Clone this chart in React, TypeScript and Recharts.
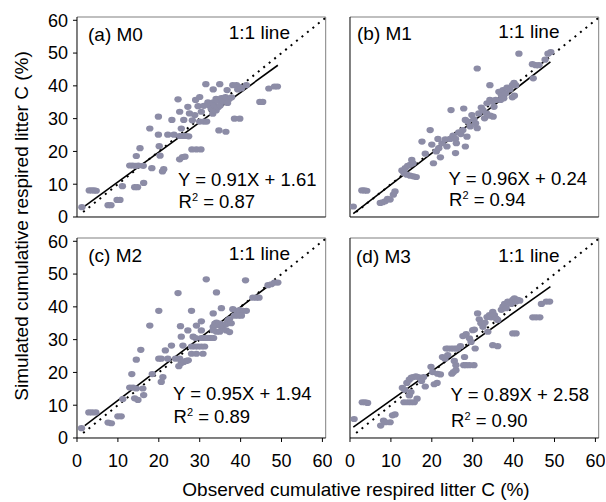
import React from 'react';
import { ScatterChart, Scatter, XAxis, YAxis, ReferenceLine } from 'recharts';

const axisTicks = [0, 10, 20, 30, 40, 50, 60];
const panelLabels = ['(a) M0', '(b) M1', '(c) M2', '(d) M3'];
const slopes = [0.91, 0.96, 0.95, 0.89];
const intercepts = [1.61, 0.24, 1.94, 2.58];
const equationTexts = ['Y = 0.91X + 1.61', 'Y = 0.96X + 0.24', 'Y = 0.95X + 1.94', 'Y = 0.89X + 2.58'];
const r2Texts = ['0.87', '0.94', '0.89', '0.90'];
const fitStart = [1.9, 0.8, 1.9, 0.8];
const fitEnd = [49.1, 49.0, 47.0, 49.0];
const oneToOne = [1.5, 60.8];
const xTitle = 'Observed cumulative respired litter C (%)';
const yTitle = 'Simulated cumulative respired litter C (%)';

// [observed, simulated]
const m0Points = [
  [1.2, 3.0], [3.0, 8.1], [3.6, 8.1], [4.2, 8.1], [4.7, 8.0],
  [7.6, 3.6], [8.3, 3.6], [9.8, 5.2], [10.5, 5.2], [11.1, 9.4],
  [12.9, 15.7], [13.6, 15.7], [14.3, 15.6], [15.0, 15.7], [16.2, 15.6],
  [14.1, 9.1], [14.8, 9.1], [16.3, 10.4], [14.5, 18.6], [15.4, 21.0],
  [18.3, 14.9], [17.8, 27.0], [19.9, 30.6], [19.9, 25.1], [20.1, 21.6], [20.3, 18.7], [20.9, 13.9], [21.2, 14.6],
  [22.2, 25.1], [23.2, 29.6], [23.7, 25.1], [24.7, 35.9], [25.1, 32.1], [25.5, 27.0],
  [25.1, 24.7], [25.9, 24.7], [26.6, 24.7], [27.3, 24.6],
  [25.1, 17.6], [25.8, 18.3], [26.4, 18.4],
  [26.1, 29.6], [27.1, 33.6], [27.5, 31.6], [28.2, 29.5], [28.8, 31.1],
  [28.1, 20.6], [29.2, 20.6], [30.3, 20.6],
  [29.0, 35.7], [30.0, 36.6], [29.6, 33.8], [30.4, 32.1], [31.0, 33.9],
  [30.0, 29.1], [31.0, 29.1], [31.7, 29.1],
  [31.5, 40.5], [32.0, 35.0], [32.4, 34.0], [32.8, 33.0], [33.3, 35.0], [33.6, 34.0], [34.0, 36.0], [34.3, 35.5], [33.3, 38.9],
  [33.2, 31.5], [34.0, 32.5], [34.5, 33.5], [35.0, 34.0],
  [34.9, 40.5], [34.7, 26.4], [36.4, 26.0],
  [35.3, 36.3], [35.8, 35.2], [36.3, 36.6], [36.8, 34.8], [37.2, 36.0], [37.8, 36.5], [36.7, 38.7],
  [38.1, 40.2], [39.0, 40.2], [39.8, 39.6], [38.5, 30.0], [39.8, 30.0], [39.3, 38.9], [40.2, 39.2], [41.4, 40.2],
  [44.7, 35.1], [45.4, 35.1], [46.9, 39.2], [48.3, 39.8], [49.0, 39.8],
];

const m1Points = [
  [0.8, 3.2], [2.9, 8.1], [3.5, 8.1], [4.1, 8.0],
  [7.4, 4.3], [8.0, 4.5], [8.6, 4.8], [9.2, 5.5], [9.8, 5.3], [10.6, 6.8], [11.0, 7.8],
  [12.7, 14.2], [13.5, 14.9], [14.1, 15.6], [14.7, 15.9], [15.4, 16.4],
  [13.2, 13.4], [13.9, 12.9], [14.7, 12.6], [15.5, 12.4], [16.2, 12.2], [15.1, 17.4],
  [17.6, 23.0], [18.4, 19.3], [19.6, 26.5], [20.0, 22.1], [20.4, 16.4], [21.1, 20.0], [21.7, 21.0], [22.1, 18.2], [21.5, 23.8],
  [22.5, 22.5], [23.3, 23.7], [23.7, 21.5], [24.7, 32.6], [24.5, 23.8], [25.2, 24.8], [25.8, 23.8], [26.0, 22.5], [25.8, 19.5],
  [26.6, 25.8], [27.1, 25.3], [27.6, 26.5], [27.8, 33.1], [28.2, 29.6], [28.8, 29.1], [29.4, 27.6], [28.6, 24.5], [28.2, 21.5],
  [29.8, 31.1], [30.3, 29.8], [30.7, 28.6], [31.1, 27.1], [31.1, 45.3],
  [31.5, 31.6], [32.1, 33.4], [32.5, 32.6], [32.9, 30.1], [33.4, 31.6],
  [33.5, 34.7], [34.2, 35.7], [34.8, 35.2], [35.2, 33.6], [35.6, 35.7], [34.2, 40.2], [34.3, 30.9], [35.0, 30.6],
  [36.4, 38.2], [37.0, 37.2], [37.4, 38.7], [38.0, 37.7], [36.8, 35.7], [37.6, 36.2],
  [38.4, 39.5], [39.1, 38.9], [39.7, 40.2], [40.1, 40.9], [40.5, 40.2], [39.7, 36.5], [40.2, 37.0], [41.3, 49.8],
  [44.6, 46.6], [45.4, 46.3], [46.2, 46.3], [44.8, 42.3], [47.7, 48.0], [48.4, 49.8], [49.1, 50.3],
];

const m2Points = [
  [1.1, 3.0], [2.9, 7.8], [3.7, 7.8], [4.6, 7.8],
  [7.6, 4.7], [8.4, 4.5], [10.0, 6.6], [10.8, 6.6], [11.2, 11.9],
  [12.9, 15.4], [13.7, 15.4], [14.5, 15.1], [13.4, 19.5], [14.1, 12.1], [14.9, 11.6],
  [14.5, 23.9], [15.6, 26.9], [16.1, 15.1], [16.3, 13.1], [17.8, 34.3], [18.4, 19.5],
  [20.0, 38.8], [20.0, 24.2], [20.6, 24.2], [20.6, 17.1], [21.0, 18.6], [21.6, 26.7], [22.2, 24.2], [23.1, 28.2],
  [24.7, 44.2], [24.1, 24.2], [25.1, 24.2], [24.9, 21.9], [25.5, 22.9], [25.3, 34.1], [25.5, 30.9], [25.9, 28.2],
  [26.1, 23.2], [26.7, 23.5], [27.2, 23.7], [27.1, 32.8], [28.0, 38.8], [28.4, 30.9], [29.0, 30.5],
  [28.0, 27.9], [28.8, 27.9], [29.6, 27.9], [30.4, 27.9], [31.2, 27.9], [28.0, 25.7], [29.2, 25.7],
  [29.2, 34.3], [30.4, 35.6], [30.4, 32.8], [30.8, 25.7],
  [30.4, 30.5], [31.0, 30.5], [31.6, 30.5], [32.3, 30.5], [32.8, 30.5], [33.4, 30.5],
  [31.6, 48.4], [33.3, 38.0], [34.1, 44.4],
  [33.3, 33.9], [33.7, 34.9], [34.1, 35.2], [34.5, 34.4], [34.9, 34.9], [35.3, 33.9], [35.7, 33.4], [34.9, 32.4], [34.1, 32.4], [33.3, 32.9],
  [35.3, 39.6], [36.5, 34.8], [36.9, 35.8], [37.3, 36.3], [37.7, 35.0], [36.5, 32.8], [37.3, 32.3],
  [38.1, 39.3], [39.1, 38.8], [39.8, 39.0], [40.6, 38.8], [41.4, 38.8], [38.5, 37.3], [39.4, 37.3], [40.2, 37.3],
  [41.2, 48.1], [43.0, 42.8], [43.8, 42.8], [44.5, 42.8], [46.7, 46.6], [47.5, 46.9], [48.3, 47.4], [49.1, 47.4],
];

const m3Points = [
  [1.0, 5.8], [3.0, 10.9], [3.7, 10.9], [4.3, 10.7],
  [7.5, 3.8], [8.2, 5.3], [8.7, 4.8], [9.8, 4.8], [10.4, 6.9], [11.0, 7.2],
  [12.8, 15.3], [13.4, 14.7], [13.2, 10.9], [14.1, 10.9], [14.9, 10.9], [15.7, 10.9],
  [13.9, 16.8], [14.5, 17.8], [15.0, 18.4], [15.5, 18.6], [16.1, 18.8], [16.7, 18.6],
  [14.5, 13.0], [14.9, 14.0], [16.4, 12.0], [17.5, 17.4], [18.0, 18.6], [18.4, 15.7],
  [19.8, 21.7], [20.2, 20.1], [20.6, 16.4], [21.3, 16.8], [21.4, 19.6], [22.1, 19.4],
  [22.6, 24.7], [23.2, 24.2], [23.9, 25.3],
  [23.5, 27.3], [24.0, 27.3], [24.7, 27.3], [25.3, 27.3], [25.9, 27.3],
  [24.9, 19.6], [25.3, 20.1], [25.9, 20.7], [25.5, 23.5], [25.9, 22.2], [26.3, 27.3], [27.0, 28.0],
  [27.8, 22.2], [28.4, 22.2], [29.2, 22.2], [30.3, 22.2], [28.0, 24.7],
  [27.6, 31.1], [28.4, 31.7], [29.2, 30.4], [29.6, 29.3], [30.0, 32.9], [30.4, 33.1], [30.6, 27.3],
  [31.2, 38.0], [31.6, 36.2], [32.0, 35.0], [32.5, 33.9], [33.0, 35.2], [33.5, 36.9], [33.7, 32.4],
  [34.1, 37.5], [34.5, 36.8], [34.9, 38.5], [35.3, 37.5], [35.7, 36.5], [36.1, 36.0],
  [34.9, 28.3], [36.1, 28.0],
  [37.0, 39.1], [37.4, 40.1], [37.8, 40.9], [38.2, 39.6],
  [38.6, 41.6], [39.4, 40.9], [39.8, 42.1], [40.2, 42.6], [40.6, 41.6], [41.0, 42.1], [41.5, 41.9],
  [39.8, 31.9], [40.6, 31.9],
  [44.7, 36.8], [45.5, 36.8], [46.4, 36.8], [46.8, 40.9], [48.0, 41.6], [48.8, 41.6],
];

const allPoints = [m0Points, m1Points, m2Points, m3Points];

const XMAX = 60.8;
const YMAX = 61;
const PLOT_W = 248.7;
const PLOT_H = 200;
const FONT = '"Liberation Sans", Arial, sans-serif';
const DOT = '#8c8ca6';

const panelPos = [
  { left: 77.3, top: 16.7, showX: false, showY: true },
  { left: 350, top: 16.7, showX: false, showY: false },
  { left: 77.3, top: 238.3, showX: true, showY: true },
  { left: 350, top: 238, showX: true, showY: false },
];

const textPos = [
  { lx: 88, ly: 40.5, ox: 290, oy: 38.5, ex: 178, ey: 186, ry: 208 },
  { lx: 357, ly: 39.5, ox: 559.5, oy: 38, ex: 448.5, ey: 184.5, ry: 205.5 },
  { lx: 88.3, ly: 261.5, ox: 290, oy: 260, ex: 173, ey: 399.5, ry: 423 },
  { lx: 356, ly: 263, ox: 559.5, oy: 261.5, ex: 450.5, ey: 401, ry: 427 },
];

const Dot = (p: any) => (
  <ellipse cx={p.cx} cy={p.cy} rx={3.7} ry={3.1} fill={DOT} />
);

function Panel({ i }: { i: number }) {
  const pos = panelPos[i];
  const ML = 45;
  const MT = 6;
  const MR = 6;
  const XH = 40;
  const W = ML + PLOT_W + MR;
  const H = MT + PLOT_H + XH;
  const data = allPoints[i].map(([x, y]) => ({ x, y }));
  const s = slopes[i];
  const b = intercepts[i];
  const tickStyle = { fill: '#000', fontSize: 18, fontFamily: FONT };
  return (
    <div style={{ position: 'absolute', left: pos.left - ML, top: pos.top - MT }}>
      <ScatterChart width={W} height={H} margin={{ top: MT, right: MR, bottom: 0, left: 0 }}>
        <XAxis
          type="number"
          dataKey="x"
          domain={[0, XMAX]}
          ticks={axisTicks}
          interval={0}
          tickSize={4}
          tickMargin={12}
          height={XH}
          tick={pos.showX ? tickStyle : false}
          axisLine={{ stroke: '#000', strokeWidth: 1 }}
          tickLine={{ stroke: '#000', strokeWidth: 1 }}
          allowDataOverflow
        />
        <YAxis
          type="number"
          dataKey="y"
          domain={[0, YMAX]}
          ticks={axisTicks}
          interval={0}
          tickSize={4}
          tickMargin={5}
          width={ML}
          tick={pos.showY ? tickStyle : false}
          axisLine={{ stroke: '#000', strokeWidth: 1 }}
          tickLine={{ stroke: '#000', strokeWidth: 1 }}
          allowDataOverflow
        />
        <ReferenceLine x={XMAX} stroke="#808080" strokeWidth={1} />
        <ReferenceLine y={YMAX} stroke="#808080" strokeWidth={1} />
        <Scatter data={data} shape={Dot} isAnimationActive={false} />
        <ReferenceLine
          segment={[{ x: oneToOne[0], y: oneToOne[0] }, { x: oneToOne[1], y: oneToOne[1] }]}
          stroke="#000"
          strokeWidth={2}
          strokeDasharray="2 5"
        />
        <ReferenceLine
          segment={[
            { x: fitStart[i], y: s * fitStart[i] + b },
            { x: fitEnd[i], y: s * fitEnd[i] + b },
          ]}
          stroke="#000"
          strokeWidth={1.6}
        />
      </ScatterChart>
    </div>
  );
}

export default function App() {
  return (
    <div style={{ position: 'absolute', left: 0, top: 0, width: 606, height: 502, background: '#fff', fontFamily: FONT }}>
      {[0, 1, 2, 3].map((i) => (
        <Panel key={i} i={i} />
      ))}
      <svg width={606} height={502} style={{ position: 'absolute', left: 0, top: 0, pointerEvents: 'none' }}>
        <g fontFamily={FONT} fill="#000">
          {textPos.map((t, i) => (
            <g key={i}>
              <text x={t.lx} y={t.ly} fontSize={19}>{panelLabels[i]}</text>
              <text x={t.ox} y={t.oy} fontSize={19} textAnchor="end">1:1 line</text>
              <text x={t.ex} y={t.ey} fontSize={18.5}>{equationTexts[i]}</text>
              <text x={t.ex + 0.5} y={t.ry} fontSize={18.5}>
                R<tspan fontSize={11} dy={-7}>2</tspan>
                <tspan dy={7}>{' = ' + r2Texts[i]}</tspan>
              </text>
            </g>
          ))}
          <text x={28.3} y={226} fontSize={19} textAnchor="middle" transform="rotate(-90 28.3 226)">{yTitle}</text>
          <text x={356} y={496} fontSize={19} textAnchor="middle">{xTitle}</text>
        </g>
      </svg>
    </div>
  );
}
